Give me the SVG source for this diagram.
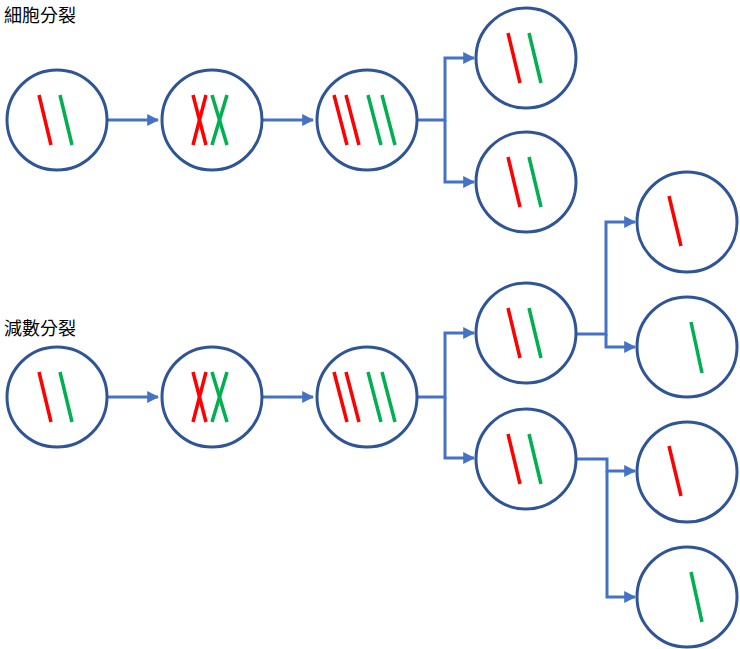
<svg xmlns="http://www.w3.org/2000/svg" width="740" height="649" viewBox="0 0 740 649">
<style>
.c{fill:#fff;stroke:#2F5597;stroke-width:3}
.r{stroke:#FF0000;stroke-width:3.5}
.g{stroke:#00B050;stroke-width:3.5}
.k{fill:none;stroke:#4472C4;stroke-width:3}
text{font-family:"Noto Sans CJK TC","Noto Sans CJK SC",sans-serif;font-size:18px;fill:#000}
</style>
<defs>
<marker id="a" viewBox="0 0 10 10" refX="9" refY="5" markerWidth="4" markerHeight="4" orient="auto"><path d="M0,0L10,5L0,10z" fill="#4472C4"/></marker>
<g id="pair"><line class="r" x1="-18" y1="-25" x2="-6" y2="25"/><line class="g" x1="3" y1="-25" x2="15" y2="25"/></g>
<g id="xx"><line class="r" x1="-19" y1="-25" x2="-6" y2="25"/><line class="r" x1="-6" y1="-25" x2="-19" y2="25"/><line class="g" x1="0" y1="-25" x2="15" y2="25"/><line class="g" x1="15" y1="-25" x2="0" y2="25"/></g>
<g id="four"><line class="r" x1="-33" y1="-25" x2="-20" y2="25"/><line class="r" x1="-21" y1="-25" x2="-8" y2="25"/><line class="g" x1="1" y1="-25" x2="14" y2="25"/><line class="g" x1="15" y1="-25" x2="28" y2="25"/></g>
</defs>
<text x="4" y="22">細胞分裂</text>
<text x="4" y="335">減數分裂</text>
<g id="connectors">
<path class="k" d="M107,120H158" marker-end="url(#a)"/>
<path class="k" d="M262,120H313" marker-end="url(#a)"/>
<path class="k" d="M417,120H445V58H474" marker-end="url(#a)"/>
<path class="k" d="M445,120V182H474" marker-end="url(#a)"/>
<path class="k" d="M107,397H158" marker-end="url(#a)"/>
<path class="k" d="M262,397H313" marker-end="url(#a)"/>
<path class="k" d="M417,397H445V333H474" marker-end="url(#a)"/>
<path class="k" d="M445,397V458H474" marker-end="url(#a)"/>
<path class="k" d="M576,334H606V222H635" marker-end="url(#a)"/>
<path class="k" d="M606,334V347H635" marker-end="url(#a)"/>
<path class="k" d="M576,459H607V471H635" marker-end="url(#a)"/>
<path class="k" d="M607,471V597H635" marker-end="url(#a)"/>
</g>
<g id="n1"><circle class="c" cx="57" cy="120" r="50"/><use href="#pair" x="57" y="120"/></g>
<g id="n2"><circle class="c" cx="212" cy="120" r="50"/><use href="#xx" x="212" y="120"/></g>
<g id="n3"><circle class="c" cx="367" cy="120" r="50"/><use href="#four" x="367" y="120"/></g>
<g id="n4"><circle class="c" cx="526" cy="58" r="50"/><use href="#pair" x="526" y="58"/></g>
<g id="n5"><circle class="c" cx="526" cy="182" r="50"/><use href="#pair" x="526" y="182"/></g>
<g id="m1"><circle class="c" cx="57" cy="397" r="50"/><use href="#pair" x="57" y="397"/></g>
<g id="m2"><circle class="c" cx="212" cy="397" r="50"/><use href="#xx" x="212" y="397"/></g>
<g id="m3"><circle class="c" cx="367" cy="397" r="50"/><use href="#four" x="367" y="397"/></g>
<g id="m4"><circle class="c" cx="526" cy="333" r="50"/><use href="#pair" x="526" y="333"/></g>
<g id="m5"><circle class="c" cx="526" cy="459" r="50"/><use href="#pair" x="526" y="459"/></g>
<g id="m6"><circle class="c" cx="687" cy="222" r="50"/><line class="r" x1="669" y1="196" x2="681" y2="246"/></g>
<g id="m7"><circle class="c" cx="687" cy="347" r="50"/><line class="g" x1="691" y1="322" x2="702" y2="373"/></g>
<g id="m8"><circle class="c" cx="687" cy="472" r="50"/><line class="r" x1="669" y1="446" x2="681" y2="496"/></g>
<g id="m9"><circle class="c" cx="687" cy="597" r="50"/><line class="g" x1="691" y1="572" x2="702" y2="622"/></g>
</svg>
